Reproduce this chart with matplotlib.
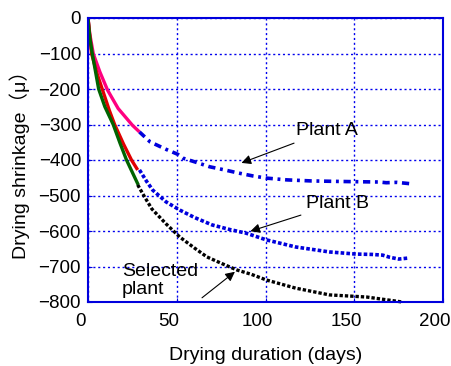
"""Drying shrinkage vs drying duration."""

import matplotlib
matplotlib.use('Agg')
import matplotlib.pyplot as plt
from matplotlib.transforms import ScaledTranslation

plt.rcParams['font.family'] = ['Liberation Sans', 'Noto Sans CJK JP']

# data (days, shrinkage in micro)
days_pink = [0, 1, 3, 6.7, 11, 17, 25, 29]
pink = [0, -45, -101, -152, -203, -255, -302, -321]
days_red = [0, 1, 2, 5, 8, 12, 15, 20, 24.5, 28]
red = [0, -50, -100, -155, -200, -260, -300, -355, -400, -428]
days_green = [0, 1, 2.4, 6, 9.5, 14.2, 18, 21.7, 28.3]
green = [0, -55, -100, -200, -250, -300, -352, -400, -470]

days_a = [29, 35, 44, 50.6, 53.6, 60, 68.5, 77, 85, 93, 100.5, 112, 126,
          137, 149, 164, 168, 174, 182]
plant_a = [-321, -349, -370, -384, -395, -405, -419, -428, -437, -445, -451,
           -456, -459, -460, -461, -462, -464, -463, -467]
days_b = [29, 33, 36.5, 44, 51.7, 60, 70, 80, 89, 100.5, 117, 136, 151, 160,
          166, 170, 175, 181]
plant_b = [-428, -460, -485, -518, -541, -562, -583, -596, -606, -625, -645,
           -659, -665, -666, -668, -674, -679, -676]
days_s = [28, 32, 36, 44, 51.7, 60, 67, 76, 84, 92, 100.5, 117, 136, 157,
          170, 177]
selected = [-470, -505, -538, -580, -617, -648, -673, -693, -710, -722, -738,
            -761, -780, -786, -795, -800]

xticks = [0, 50, 100, 150, 200]
yticks = [0, -100, -200, -300, -400, -500, -600, -700, -800]

fig = plt.figure(figsize=(4.51, 3.66), dpi=100)
ax = fig.add_axes([88/451, 1 - 302/366, 355/451, 284/366])

ax.plot(days_pink, pink, color='#ff0080', lw=2.4, solid_capstyle='butt')
ax.plot(days_red, red, color='#e00000', lw=2.4, solid_capstyle='butt')
ax.plot(days_green, green, color='#006400', lw=2.4, solid_capstyle='butt')
ax.plot(days_a, plant_a, color='#0000dd', lw=2.6, ls=(0, (2, 1.3, 0.8, 1.3)))
ax.plot(days_b, plant_b, color='#0000dd', lw=2.6, ls=(0, (1, 0.6)))
ax.plot(days_s, selected, color='black', lw=2.4, ls=(0, (1, 0.6)),
        clip_on=False)

ax.set_xlim(0, 200)
ax.set_ylim(-800, 0)
ax.set_xticks(xticks)
ax.set_yticks(yticks)
ax.set_yticklabels(['0', '−100', '−200', '−300', '−400', '−500', '−600',
                    '−700', '−800'])
ax.grid(True, color='#0000ee', ls=(0, (1.5, 2)), lw=1)
for s in ax.spines.values():
    s.set_color('#0000dd')
    s.set_linewidth(1.5)
ax.tick_params(direction='in', length=3, color='#0000dd', labelsize=13.5,
               pad=5)
ax.tick_params(axis='x', pad=8)
for lab in ax.get_xticklabels():
    lab.set_transform(lab.get_transform() +
                      ScaledTranslation(-8/100, 0, fig.dpi_scale_trans))

ax.set_xlabel('Drying duration (days)', fontsize=14, labelpad=12)
ax.set_ylabel('Drying shrinkage（μ）', fontsize=14, labelpad=6)

arrow = dict(arrowstyle='-|>', color='black', lw=0.8, mutation_scale=14)
ax.annotate('Plant A', xy=(85, -411), xytext=(117, -318), fontsize=14,
            va='center', ha='left', arrowprops=arrow)
ax.annotate('Plant B', xy=(90, -603), xytext=(123, -522), fontsize=14,
            va='center', ha='left', arrowprops=arrow)
ax.text(19, -740, 'Selected\nplant', fontsize=14, va='center', ha='left',
        linespacing=1.05)
ax.annotate('', xy=(84, -710), xytext=(63, -793), arrowprops=arrow)

plt.savefig('out.png', dpi=100)
